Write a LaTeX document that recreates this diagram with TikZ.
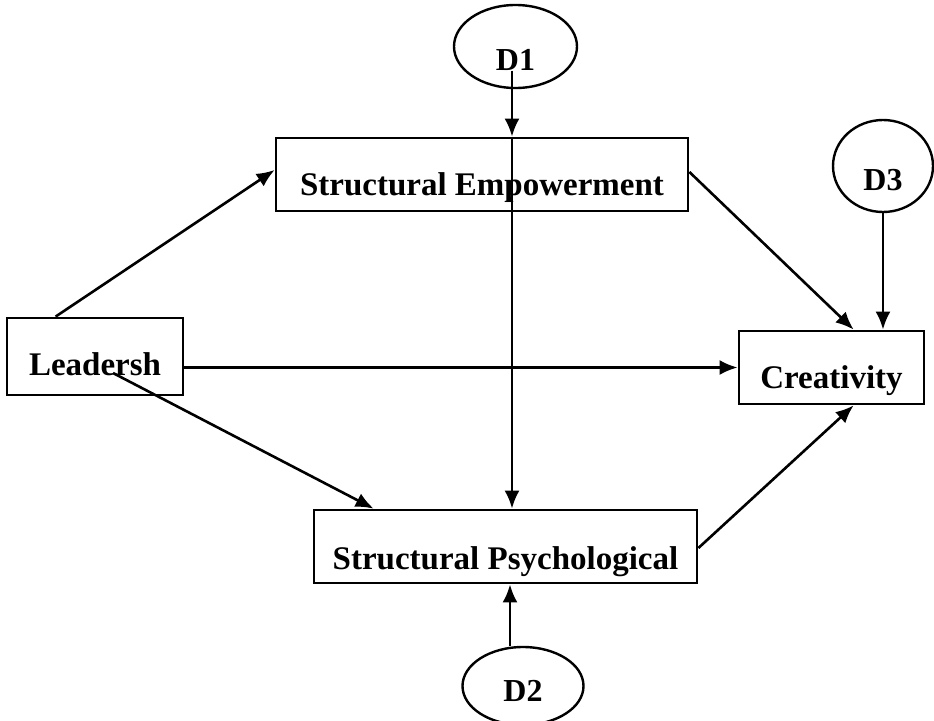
\documentclass[tikz,border=0pt]{standalone}
\usepackage{fontspec}
\setmainfont{Liberation Serif}
\usetikzlibrary{shapes.geometric,arrows.meta,calc}
\begin{document}
\begin{tikzpicture}[x=1pt,y=-1pt,
    box/.style={draw,line width=2.8pt,minimum height=73pt,inner sep=0pt,
      text height=41pt,text depth=0pt,font=\fontsize{33}{39}\selectfont\bfseries},
    dist/.style={draw,ellipse,line width=2.4pt,inner sep=0pt,
      text height=48pt,text depth=0pt,font=\fontsize{32}{38}\selectfont\bfseries},
    link/.style={-{Latex[length=18pt,width=15pt]},line width=2.6pt}]
    \useasboundingbox (0,0) rectangle (934,720);
    \node[box,minimum width=176pt,minimum height=77pt,text height=38pt] (lead) at (95,356.5) {Leadersh};
    \node[box,minimum width=412pt] (se) at (482,174.5) {Structural Empowerment};
    \node[box,minimum width=383pt,text height=46pt] (sp) at (505.5,546.5) {Structural Psychological};
    \node[box,minimum width=185pt] (cre) at (831.5,367.5) {Creativity};
    \node[dist,minimum width=123pt,minimum height=83pt] (d1) at (515.5,46.5) {D1};
    \node[dist,minimum width=100pt,minimum height=92pt] (d3) at (883,166) {D3};
    \node[dist,minimum width=121pt,minimum height=78pt,text height=30pt] (d2) at (523,686) {D2};
    \draw[link] ($(lead.north west)+(50,0)$) -- ([yshift=4.5pt]se.west);
    \draw[link] (lead.east |- cre.west) -- (cre.west);
    \draw[link] ($(lead.center)+(18,16.5)$) -- ($(sp.north west)+(61,0)$);
    \draw[link] ([yshift=2.5pt]se.east) -- ($(cre.north west)+(116,0)$);
    \draw[link] (d3.south) -- (d3.south |- cre.north);
    \draw[link] ([yshift=-1.5pt]sp.east) -- ($(cre.south west)+(116,0)$);
    \draw[link] ([xshift=-3.5pt]d1.base) -- ([xshift=-3.5pt]d1.base |- se.north);
    \draw[link] ([xshift=-3.5pt]d1.base |- se.north) -- ([xshift=-3.5pt]d1.base |- sp.north);
    \draw[link] ([xshift=-13pt]d2.north) -- ([xshift=-13pt]d2.north |- sp.south);
\end{tikzpicture}
\end{document}
